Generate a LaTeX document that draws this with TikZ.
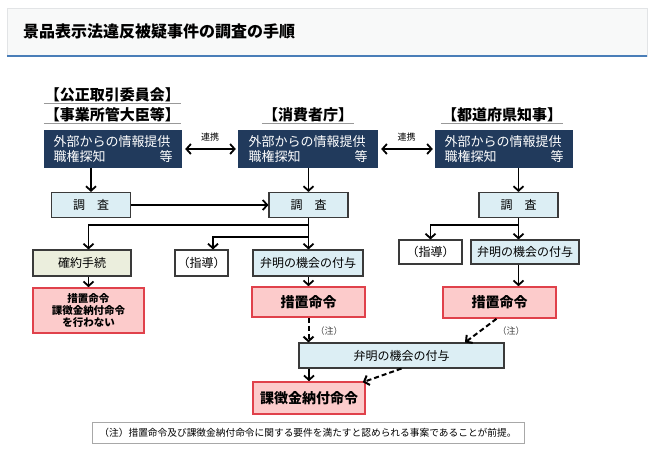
\documentclass[tikz,border=0pt]{standalone}
\usepackage{fontspec}
\setmainfont{Noto Sans CJK JP}
\usetikzlibrary{arrows.meta,positioning}
\definecolor{navy}{HTML}{213A5C}
\definecolor{paleblue}{HTML}{DCEEF4}
\definecolor{paleolive}{HTML}{EBEEDD}
\definecolor{pink}{HTML}{FCCBCB}
\definecolor{redline}{HTML}{E0414B}
\definecolor{edge}{HTML}{3A3A3A}
\definecolor{panelgray}{HTML}{F8F9F9}
\definecolor{panelline}{HTML}{E2E4E6}
\definecolor{titleline}{HTML}{4A7EB8}
\definecolor{notegray}{HTML}{A8A8A8}
\tikzset{
  title/.style={font=\bfseries\fontsize{16}{18}\selectfont,anchor=west,inner sep=0pt},
  head/.style={font=\bfseries\fontsize{15}{17}\selectfont,inner sep=1pt},
  uline/.style={draw=gray!80,line width=1pt},
  source/.style={fill=navy,text=white,minimum height=38,text width=119,align=left,font=\fontsize{13}{15.5}\selectfont,inner sep=0pt},
  probe/.style={draw=edge,fill=paleblue,line width=1.1pt,minimum height=25,font=\fontsize{12}{14}\selectfont,inner sep=0pt},
  plain/.style={draw=edge,fill=white,line width=1.1pt,font=\fontsize{12}{14}\selectfont,inner sep=0pt},
  settle/.style={draw=edge,fill=paleolive,line width=1.1pt,font=\fontsize{12}{14}\selectfont,inner sep=0pt},
  order/.style={draw=redline,fill=pink,line width=1.6pt,font=\bfseries\fontsize{14}{16}\selectfont,inner sep=0pt},
  linklabel/.style={font=\fontsize{9}{11}\selectfont,inner sep=1pt},
  tinylabel/.style={font=\fontsize{9}{11}\selectfont,text=black!75,inner sep=0pt},
  notebox/.style={draw=notegray,fill=white,line width=0.7pt,minimum width=432,minimum height=21,font=\fontsize{9.7}{11}\selectfont,inner sep=0pt},
  arr/.style={-{Straight Barb[length=4.5pt,width=10pt]},draw=black,line width=1.8pt},
  arrboth/.style={{Straight Barb[length=4.5pt,width=10pt]}-{Straight Barb[length=4.5pt,width=10pt]},draw=black,line width=1.8pt},
  arrdash/.style={-{Straight Barb[length=4.5pt,width=10pt]},draw=black,line width=2pt,dash pattern=on 5pt off 3pt}
}
\begin{document}
\begin{tikzpicture}[x=1pt,y=-1pt]
\path[use as bounding box] (0,0) rectangle (662,464);
\node[draw=panelline,fill=panelgray,minimum width=640,minimum height=48,inner sep=0pt] (banner) at (327,32) {};
\draw[titleline,line width=1.6pt] (banner.south west)--(banner.south east);
\node[title] (ttl) at (23,31) {景品表示法違反被疑事件の調査の手順};
\node[head] (hjftc) at (112.5,95) {【公正取引委員会】};
\node[head] (hmin) at (112.5,115) {【事業所管大臣等】};
\node[head] (hcaa) at (308,115) {【消費者庁】};
\node[head] (hpref) at (502,115) {【都道府県知事】};
\foreach \h in {hjftc,hmin,hcaa,hpref}
  \draw[uline] (\h.south west)--(\h.south east);
\foreach \n/\x/\w in {src1/113/138,src2/308/140,src3/504/138}
  \node[source,minimum width=\w] (\n) at (\x,149) {外部からの情報提供\\職権探知\hfill 等};
\foreach \n/\x in {inv1/91,inv2/308.5,inv3/518.5}
  \node[probe,minimum width=79] (\n) at (\x,205) {調\hspace{1em}査};
\node[settle,minimum width=98,minimum height=26] (kakuyaku) at (82,263) {確約手続};
\node[plain,minimum width=53,minimum height=26] (shido2) at (201.5,263) {（指導）};
\node[probe,minimum width=110,minimum height=26] (benmei2) at (308,263) {弁明の機会の付与};
\node[plain,minimum width=63,minimum height=24] (shido3) at (430.5,252) {（指導）};
\node[probe,minimum width=108,minimum height=24] (benmei3) at (525,252) {弁明の機会の付与};
\node[order,minimum width=111,minimum height=45,align=center,font=\bfseries\fontsize{10.5}{12}\selectfont] (sochi1) at (88.5,310.5) {措置命令\\課徴金納付命令\\を行わない};
\node[order,minimum width=113,minimum height=30] (sochi2) at (308.5,302) {措置命令};
\node[order,minimum width=113,minimum height=31] (sochi3) at (499.5,302.5) {措置命令};
\node[probe,minimum width=205,minimum height=25] (benmei4) at (401.5,355.5) {弁明の機会の付与};
\node[order,minimum width=112,minimum height=32] (kachou) at (309,398) {課徴金納付命令};
\node[notebox] (note) at (308,432.5) {（注）措置命令及び課徴金納付命令に関する要件を満たすと認められる事案であることが前提。};
\draw[arrboth,shorten <=3pt,shorten >=2pt] (src1.east)--(src2.west) node[linklabel,midway,above=6pt] (link1) {連携};
\draw[arrboth,shorten <=3pt,shorten >=2pt] (src2.east)--(src3.west) node[linklabel,midway,above=6pt] (link2) {連携};
\draw[arr] (src1.south -| inv1.north)--(inv1.north);
\draw[arr] (src2.south -| inv2.north)--(inv2.north);
\draw[arr] (src3.south -| inv3.north)--(inv3.north);
\draw[arr] (inv1.east)--(inv2.west);
\coordinate (fork1) at (308.5,225);
\coordinate (fork2) at (308.5,237);
\coordinate (fork3) at (518.5,225);
\draw[arr] (inv2.south)--(inv2.south |- benmei2.north);
\draw[arr] (fork1) -| (kakuyaku.north -| sochi1.north);
\draw[arr] (fork2) -| ([xshift=11.5pt]shido2.north);
\draw[arr] (inv3.south)--(inv3.south |- benmei3.north);
\draw[arr] (fork3) -| (shido3.north);
\draw[arr] (kakuyaku.south -| sochi1.north)--(sochi1.north);
\draw[arr] (benmei2.south -| sochi2.north)--(sochi2.north);
\draw[arr] (benmei3.south -| inv3.south)--(sochi3.north -| inv3.south);
\draw[arrdash] (sochi2.south)--(sochi2.south |- benmei4.north);
\node[tinylabel] (chu1) at (329,331) {（注）};
\draw[arrdash] ([xshift=-3pt]sochi3.south)--([xshift=63.5pt]benmei4.north);
\node[tinylabel] (chu2) at (511,331) {（注）};
\draw[arr] (benmei4.south -| kachou.north)--(kachou.north);
\draw[arrdash] (benmei4.south)--([xshift=-3pt,yshift=-1pt]kachou.north east);
\end{tikzpicture}
\end{document}
